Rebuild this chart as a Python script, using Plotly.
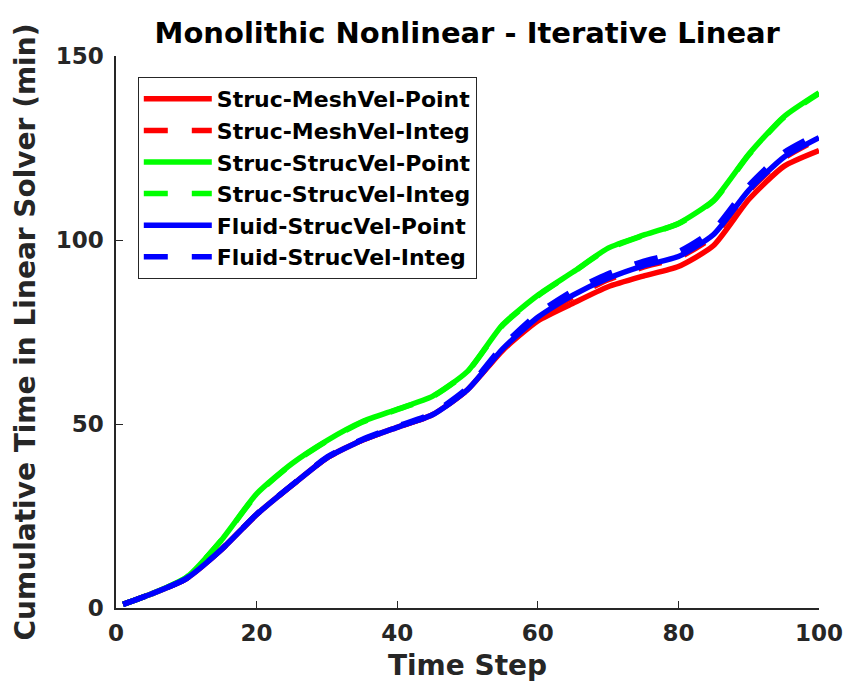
import plotly.graph_objects as go

steps = [1, 5, 10, 15, 20, 25, 30, 35, 40, 45, 50, 55, 60, 65, 70, 75, 80, 85, 90, 95, 100]

struc_mesh_point = [1.0, 3.8, 8.0, 15.9, 25.4, 33.3, 40.8, 45.6, 49.1, 52.5, 59.3, 70.0, 78.0, 82.8, 87.3, 90.2, 92.8, 98.5, 111.0, 120.0, 124.3]
struc_mesh_integ = [1.0, 3.8, 8.0, 15.9, 25.4, 33.3, 40.8, 45.6, 49.1, 52.5, 59.3, 70.3, 78.6, 84.5, 89.2, 92.6, 95.2, 101.0, 113.2, 122.2, 127.5]
struc_struc_point = [1.0, 3.8, 8.3, 18.5, 31.0, 39.2, 45.5, 50.6, 54.0, 57.5, 64.3, 77.0, 85.0, 91.3, 97.8, 101.3, 104.5, 110.8, 123.3, 133.5, 140.0]
struc_struc_integ = [1.0, 3.8, 8.3, 18.4, 30.8, 39.1, 45.4, 50.5, 53.9, 57.4, 64.2, 76.8, 84.8, 91.2, 97.6, 101.2, 104.4, 110.6, 123.1, 133.3, 139.8]
fluid_struc_point = [1.0, 3.8, 8.0, 15.9, 25.4, 33.3, 40.8, 45.6, 49.1, 52.5, 59.3, 70.4, 79.0, 85.0, 89.6, 93.0, 95.5, 101.5, 113.5, 122.5, 127.8]
fluid_struc_integ = [1.0, 3.8, 8.0, 15.9, 25.5, 33.4, 41.0, 45.8, 49.4, 52.9, 59.8, 71.2, 80.0, 86.2, 90.8, 94.2, 96.8, 102.8, 114.8, 123.8, 129.0]

names = ["Struc-MeshVel-Point", "Struc-MeshVel-Integ", "Struc-StrucVel-Point",
         "Struc-StrucVel-Integ", "Fluid-StrucVel-Point", "Fluid-StrucVel-Integ"]
series = [struc_mesh_point, struc_mesh_integ, struc_struc_point,
          struc_struc_integ, fluid_struc_point, fluid_struc_integ]
colors = ["#FF0000", "#FF0000", "#00FF00", "#00FF00", "#0000FF", "#0000FF"]
dashes = ["solid", "24px,24px", "solid", "24px,24px", "solid", "24px,24px"]

fig = go.Figure()
for n, s, c, d in zip(names, series, colors, dashes):
    fig.add_trace(go.Scatter(
        x=steps, y=s, mode="lines", name=n,
        line=dict(color=c, width=5.5, dash=d, shape="spline", smoothing=0.6),
    ))

axis_color = "#262626"
font_family = "DejaVu Sans"

fig.update_layout(
    width=848, height=682,
    margin=dict(l=116, r=29, t=56, b=74, autoexpand=False),
    paper_bgcolor="white", plot_bgcolor="white",
    font=dict(family=font_family, color=axis_color),
    title=dict(text="Monolithic Nonlinear - Iterative Linear",
               x=0.551, xanchor="center", y=0.952, yanchor="middle",
               font=dict(size=29, color="black", family=font_family, weight="bold")),
    showlegend=True,
    legend=dict(x=0.031, y=0.962, xanchor="left", yanchor="top",
                bgcolor="white", bordercolor=axis_color, borderwidth=1,
                font=dict(size=22, color="black", family=font_family, weight="bold"),
                itemwidth=68, traceorder="normal"),
)

fig.update_xaxes(
    range=[0, 100], tickvals=[0, 20, 40, 60, 80, 100], automargin=False,
    showgrid=False, zeroline=False, showline=True, linecolor=axis_color, linewidth=1.5,
    ticks="inside", ticklen=7, tickcolor=axis_color, ticklabelstandoff=4,
    tickfont=dict(size=23, color=axis_color, family=font_family, weight="bold"),
    title=dict(text="Time Step", font=dict(size=28, color=axis_color, family=font_family, weight="bold"), standoff=15),
)
fig.update_yaxes(
    range=[0, 150], tickvals=[0, 50, 100, 150], automargin=False,
    showgrid=False, zeroline=False, showline=True, linecolor=axis_color, linewidth=1.5,
    ticks="inside", ticklen=7, tickcolor=axis_color, ticklabelstandoff=6,
    tickfont=dict(size=23, color=axis_color, family=font_family, weight="bold"),
    title=dict(text="Cumulative Time in Linear Solver (min)", font=dict(size=28, color=axis_color, family=font_family, weight="bold"), standoff=12),
)

fig.write_html("out.html")
